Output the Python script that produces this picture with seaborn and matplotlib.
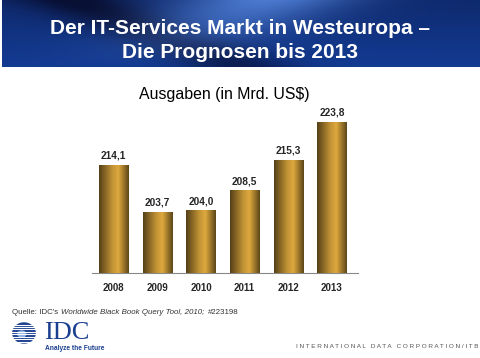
import numpy as np
import matplotlib
matplotlib.use("Agg")
import matplotlib.pyplot as plt
import seaborn as sns

years = ["2008", "2009", "2010", "2011", "2012", "2013"]
spend = [214.1, 203.7, 204.0, 208.5, 215.3, 223.8]
value_labels = ["214,1", "203,7", "204,0", "208,5", "215,3", "223,8"]

sns.set_style("white")
plt.rcParams["font.family"] = ["Liberation Sans", "DejaVu Sans"]

fig = plt.figure(figsize=(4.8, 3.58), dpi=100)

# blue title banner
ban = fig.add_axes([0.004, 1 - 67 / 358, 0.996, 67 / 358])
h, w = 60, 480
yy, xx = np.mgrid[0:1:h * 1j, 0:1:w * 1j]
dark = np.array([0.03, 0.06, 0.20])
mid = np.array([0.08, 0.25, 0.62])
light = np.array([0.35, 0.55, 0.90])
band = np.exp(-((xx - 0.15 - 0.35 * yy) / 0.12) ** 2)
glow = np.exp(-((xx - 0.55 + 0.25 * yy) / 0.18) ** 2) * (1 - yy) * 0.8
t = np.clip(0.55 + 0.35 * yy - 0.6 * band, 0, 1)
img = dark * (1 - t[..., None]) + mid * t[..., None]
img = img * (1 - glow[..., None]) + light * glow[..., None]
ban.imshow(np.clip(img, 0, 1), aspect="auto", extent=[0, 1, 0, 1])
ban.set_axis_off()
fig.text(0.5, 1 - 28 / 358, "Der IT-Services Markt in Westeuropa –", ha="center", va="center",
         color="white", fontsize=15, fontweight="bold")
fig.text(0.5, 1 - 53 / 358, "Die Prognosen bis 2013", ha="center", va="center",
         color="white", fontsize=15, fontweight="bold")

fig.text(224 / 480, 1 - 94 / 358, "Ausgaben (in Mrd. US$)", ha="center", va="center",
         color="black", fontsize=11.4)

# bar chart
ax = fig.add_axes([92 / 480, 1 - 273 / 358, 266 / 480, 179 / 358])
sns.barplot(x=years, y=spend, color="#b8862a", width=0.67, ax=ax, zorder=2)

grad = np.linspace(0, 1, 100)
shade = np.interp(grad, [0, 0.45, 0.65, 1], [0.38, 0.88, 1.0, 0.42])
gold = np.array([0.87, 0.66, 0.24])
bar_img = np.clip(shade[None, :, None] * gold[None, None, :], 0, 1)
for p in ax.patches:
    x0, y0 = p.get_x(), p.get_y()
    im = ax.imshow(bar_img, aspect="auto", zorder=3,
                   extent=[x0, x0 + p.get_width(), 190, y0 + p.get_height()])
    im.set_clip_path(p)
ax.set_xlim(-0.5, 5.6)
ax.set_ylim(190, 230)

ax.bar_label(ax.containers[0], labels=value_labels, padding=3, fontsize=7.3,
             fontweight="bold", zorder=4)

sns.despine(ax=ax, left=True)
ax.spines["bottom"].set_color("#888888")
ax.spines["bottom"].set_linewidth(0.8)
ax.set_yticks([])
ax.set_xticks(range(6))
ax.set_xticklabels(years, fontsize=7, fontweight="bold")
ax.tick_params(axis="x", length=0, pad=7)
ax.set_xticks(np.arange(-0.5, 6, 1), minor=True)
ax.tick_params(axis="x", which="minor", length=3, color="#888888", width=0.6)
ax.set_xlabel("")
ax.set_ylabel("")

# footer, pieces placed one after another
fig.canvas.draw()
rend = fig.canvas.get_renderer()
x_px = 12
for part, st in [("Quelle: IDC's ", "normal"),
                 ("Worldwide Black Book Query Tool, 2010; ", "italic"),
                 ("#223198", "normal")]:
    tx = fig.text(x_px / 480, 1 - 312 / 358, part, fontsize=5.7, color="#333333",
                  va="center", style=st)
    x_px += tx.get_window_extent(rend).width + 1

logo = fig.add_axes([5 / 480, 1 - 345 / 358, 38 / 480, 24 / 358])
th = np.linspace(0, 2 * np.pi, 100)
logo.fill(np.cos(th), np.sin(th), color="#1b3f8f")
logo.fill(0.35 * np.cos(th) - 0.2, 0.3 * np.sin(th) - 0.1, color="#8fb0e0")
for k in np.linspace(-0.85, 0.85, 8):
    logo.plot([-1.7, 1.7], [k, k], color="white", lw=0.8)
logo.set_xlim(-1.7, 1.7)
logo.set_ylim(-1.2, 1.2)
logo.set_axis_off()
fig.text(44 / 480, 1 - 333 / 358, "IDC", fontsize=19, family="Liberation Serif",
         color="#1b3f8f", va="center")
fig.text(45 / 480, 1 - 349 / 358, "Analyze the Future", fontsize=4.8, color="#1b3f8f",
         va="center", fontweight="bold")
fig.text(478 / 480, 1 - 346 / 358, "I N T E R N A T I O N A L   D A T A   C O R P O R A T I O N / I T B",
         fontsize=4.6, color="#555555", ha="right", va="center")

fig.savefig("out.png", dpi=100)
